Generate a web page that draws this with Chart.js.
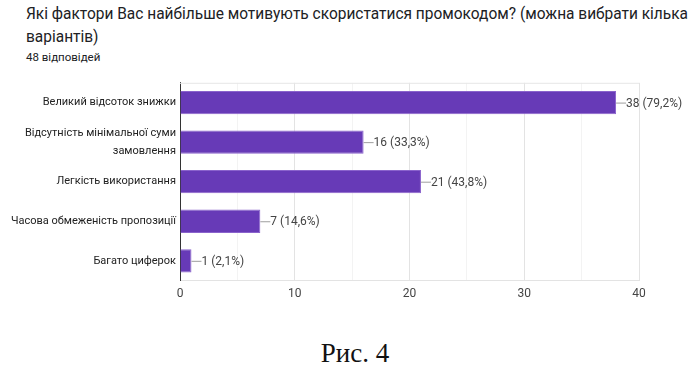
<!DOCTYPE html>
<html>
<head>
<meta charset="utf-8">
<script src="https://cdn.jsdelivr.net/npm/chart.js@4"></script>
<style>
  body { margin: 0; background: #fff; width: 690px; height: 375px; position: relative; overflow: hidden; }
  .title { position: absolute; left: 26px; top: 2px; white-space: nowrap; font: 17px Roboto, sans-serif; color: #202124; line-height: 23px; transform-origin: 0 0; }
  .sub { position: absolute; left: 26px; top: 50px; font: 11.5px Roboto, sans-serif; color: #202124; }
  .wrap { position: absolute; left: 0; top: 70px; width: 690px; height: 237px; }
  .caption { position: absolute; left: 10px; width: 690px; top: 338px; text-align: center; font: 27px "Liberation Serif", serif; color: #111; }
</style>
</head>
<body>
<div class="title" id="title"><span id="line1">Які фактори Вас найбільше мотивують скористатися промокодом? (можна вибрати кілька</span><br>варіантів)</div>
<div class="sub">48 відповідей</div>
<div class="wrap"><canvas id="chart"></canvas></div>
<div class="caption">Рис. 4</div>
<script>
// Варіанти відповідей
const labels = [
  'Великий відсоток знижки',
  ['Відсутність мінімальної суми', 'замовлення'],
  'Легкість використання',
  'Часова обмеженість пропозиції',
  'Багато циферок'
];
const counts = [38, 16, 21, 7, 1];
const percents = ['79,2%', '33,3%', '43,8%', '14,6%', '2,1%'];

// заголовок у оригіналі трохи стиснутий по ширині
const line1 = document.getElementById('line1');
document.getElementById('title').style.transform = `scaleX(${662 / line1.getBoundingClientRect().width})`;

// підписи значень з короткою лінією
const valueLabels = {
  id: 'valueLabels',
  afterDatasetsDraw(chart) {
    const ctx = chart.ctx;
    const meta = chart.getDatasetMeta(0);
    ctx.save();
    ctx.font = '12px Roboto, sans-serif';
    ctx.textBaseline = 'middle';
    meta.data.forEach((bar, i) => {
      ctx.strokeStyle = '#9e9e9e';
      ctx.lineWidth = 1;
      ctx.beginPath();
      ctx.moveTo(bar.x, bar.y + 0.5);
      ctx.lineTo(bar.x + 10, bar.y + 0.5);
      ctx.stroke();
      ctx.fillStyle = '#444';
      ctx.fillText(`${counts[i]} (${percents[i]})`, bar.x + 10, bar.y + 1);
    });
    ctx.restore();
  }
};

// верхня рамка
const topLine = {
  id: 'topLine',
  beforeDatasetsDraw(chart) {
    const { ctx, chartArea } = chart;
    ctx.save();
    ctx.strokeStyle = '#e6e6e6';
    ctx.beginPath();
    ctx.moveTo(chartArea.left, chartArea.top + 0.5);
    ctx.lineTo(chartArea.right, chartArea.top + 0.5);
    ctx.stroke();
    ctx.restore();
  }
};

new Chart(document.getElementById('chart'), {
  type: 'bar',
  data: {
    labels: labels,
    datasets: [{
      data: counts,
      backgroundColor: '#673ab7',
      borderColor: '#8a63cc',
      borderWidth: 1,
      barPercentage: 0.59,
      categoryPercentage: 1
    }]
  },
  options: {
    indexAxis: 'y',
    responsive: true,
    maintainAspectRatio: false,
    animation: false,
    layout: { padding: { left: 0, right: 51, top: 0, bottom: 0 } },
    plugins: { legend: { display: false }, tooltip: { enabled: false } },
    scales: {
      x: {
        min: 0, max: 40,
        ticks: {
          stepSize: 5,
          autoSkip: false,
          maxRotation: 0,
          padding: 6,
          color: '#444',
          font: { family: 'Roboto', size: 12 },
          callback: v => (v % 10 === 0 ? v : '')
        },
        grid: {
          drawTicks: false,
          color: c => (c.tick && c.tick.value % 10 === 0 ? '#e3e3e3' : '#f3f3f3')
        },
        border: { color: '#e3e3e3' }
      },
      y: {
        afterFit(scale) { scale.width = 180; },
        ticks: {
          autoSkip: false,
          padding: 4,
          color: '#222',
          font: { family: 'Roboto', size: 11, lineHeight: 1.6 }
        },
        grid: { display: false, drawTicks: false },
        border: { color: '#333', width: 1 }
      }
    }
  },
  plugins: [valueLabels, topLine]
});
</script>
</body>
</html>
